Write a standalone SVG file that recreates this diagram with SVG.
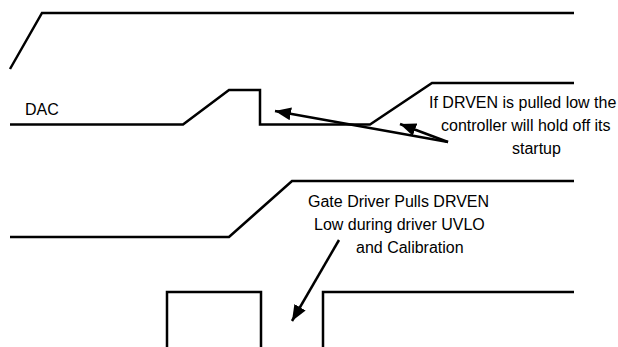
<svg xmlns="http://www.w3.org/2000/svg" width="618" height="347" viewBox="0 0 618 347">
<style>
.w{fill:none;stroke:#000;stroke-width:2.5;stroke-linejoin:miter}
.a{fill:none;stroke:#000;stroke-width:2.5}
.t{font-family:"Liberation Sans",Arial,sans-serif;font-size:16px;fill:#000}
</style>
<defs>
<marker id="ah" markerUnits="userSpaceOnUse" markerWidth="18" markerHeight="14" refX="16" refY="6.5" orient="auto">
<path d="M0,0 L16,6.5 L0,13 Z" fill="#000"/>
</marker>
</defs>
<rect width="618" height="347" fill="#fff"/>
<g id="wave1"><path class="w" d="M10,69 L42,13 H574"/></g>
<g id="wave-dac"><path class="w" d="M10,124.5 H183 L229,90 H260 V124.5 H370 L432,83 H574"/>
<text class="t" x="25" y="115">DAC</text></g>
<g id="wave3"><path class="w" d="M10,237 H229 L292,181 H574"/></g>
<g id="wave4"><path class="w" d="M167,347 V292 H261 V347"/><path class="w" d="M323,347 V292 H574"/></g>
<g id="note1">
<text class="t" x="429" y="108">If DRVEN is pulled low the</text>
<text class="t" x="441" y="131">controller will hold off its</text>
<text class="t" x="512" y="154">startup</text>
</g>
<g id="note2">
<text class="t" x="308" y="207">Gate Driver Pulls DRVEN</text>
<text class="t" x="314" y="230">Low during driver UVLO</text>
<text class="t" x="356" y="253">and Calibration</text>
</g>
<g id="connectors">
<line class="a" x1="448" y1="142" x2="275" y2="111" marker-end="url(#ah)"/>
<line class="a" x1="448" y1="142" x2="400" y2="124" marker-end="url(#ah)"/>
<line class="a" x1="339" y1="240" x2="292" y2="321" marker-end="url(#ah)"/>
</g>
</svg>
